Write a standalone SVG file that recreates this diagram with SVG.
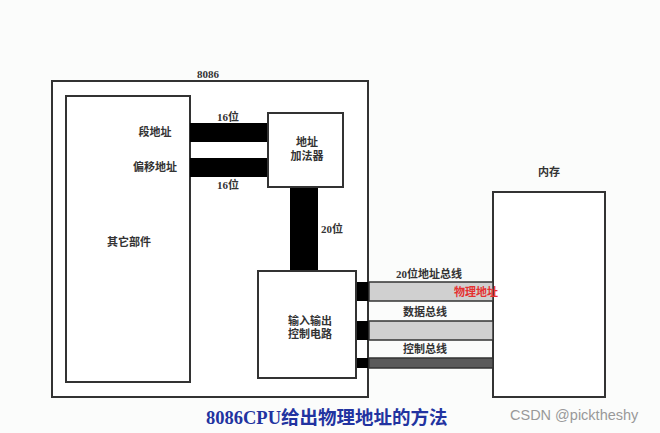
<svg xmlns="http://www.w3.org/2000/svg" width="660" height="433" viewBox="0 0 660 433">
<style>
.box{fill:#fff;stroke:#333;stroke-width:2}
.lbl{font-family:"Liberation Serif","Noto Sans CJK SC",serif;font-size:11px;font-weight:bold;fill:#333;text-anchor:middle}
.bar{fill:#000}
.bus{stroke:#333;stroke-width:1.5}
</style>
<rect width="660" height="433" fill="#fbfcfb"/>
<g id="cpu">
<rect class="box" x="52" y="81" width="316" height="316"/>
<text class="lbl" x="208" y="78">8086</text>
</g>
<g id="other">
<rect class="box" x="66" y="96" width="124" height="286"/>
<text class="lbl" x="129" y="246">其它部件</text>
<text class="lbl" x="155" y="136">段地址</text>
<text class="lbl" x="155" y="171">偏移地址</text>
</g>
<g id="memory">
<rect class="box" x="493" y="192" width="112" height="205"/>
<text class="lbl" x="549" y="176">内存</text>
</g>
<g id="connectors">
<rect class="bar" x="190" y="123" width="78" height="19"/>
<rect class="bar" x="190" y="158" width="78" height="19"/>
<rect class="bar" x="290" y="187" width="28" height="84"/>
<rect class="bar" x="356" y="282" width="13" height="19"/>
<rect class="bar" x="356" y="321" width="13" height="19"/>
<rect class="bar" x="356" y="358" width="13" height="10"/>
<rect x="369" y="282" width="124" height="19" fill="#d0d0d0" class="bus"/>
<rect x="369" y="321" width="124" height="19" fill="#d0d0d0" class="bus"/>
<rect x="369" y="358" width="124" height="10" fill="#5a5a5a" class="bus"/>
<text class="lbl" x="228" y="121">16位</text>
<text class="lbl" x="228" y="189">16位</text>
<text class="lbl" x="332" y="233">20位</text>
<text class="lbl" x="429" y="278">20位地址总线</text>
<text class="lbl" x="476" y="296" style="fill:#e53030">物理地址</text>
<text class="lbl" x="425" y="316">数据总线</text>
<text class="lbl" x="425" y="353">控制总线</text>
</g>
<g id="adder">
<rect class="box" x="268" y="113" width="75" height="74"/>
<text class="lbl" x="307" y="146">地址</text>
<text class="lbl" x="307" y="160">加法器</text>
</g>
<g id="io">
<rect class="box" x="258" y="271" width="98" height="107"/>
<text class="lbl" x="310" y="325">输入输出</text>
<text class="lbl" x="310" y="338">控制电路</text>
</g>
<g id="caption">
<text x="206" y="424" style="font-family:'Liberation Serif','Noto Sans CJK SC',serif;font-size:18.5px;font-weight:bold;fill:#2233a0">8086CPU给出物理地址的方法</text>
<text x="510" y="420" style="font-family:'Liberation Sans',sans-serif;font-size:14.5px;fill:#999">CSDN @picktheshy</text>
</g>
</svg>
